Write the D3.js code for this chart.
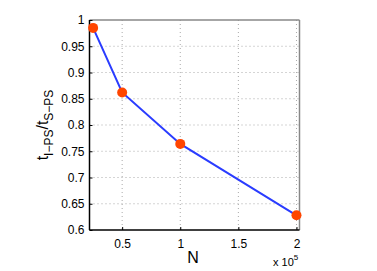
<!DOCTYPE html>
<html><head><meta charset="utf-8">
<script src="https://cdn.jsdelivr.net/npm/d3@7"></script>
<style>body{margin:0;background:#fff}svg{display:block}text{font-family:"Liberation Sans",Arial,sans-serif}</style>
</head><body>
<script>
const nValues = [0.25, 0.5, 1, 2];          // x 10^5
const ratioValues = [0.985, 0.862, 0.764, 0.628];
const xTicks = [0.5, 1, 1.5, 2];
const yTicks = [0.6, 0.65, 0.7, 0.75, 0.8, 0.85, 0.9, 0.95, 1];

const W = 377, H = 271;
const L = 89.5, R = 299.5, T = 20, B = 230;
const svg = d3.select("body").append("svg").attr("width", W).attr("height", H);
const x = d3.scaleLinear().domain([0.219, 2.026]).range([L, R]);
const y = d3.scaleLinear().domain([0.6, 1]).range([B, T]);

// grid
const g = svg.append("g");
g.selectAll(".gx").data(xTicks).enter().append("line")
  .attr("x1", d => x(d)).attr("x2", d => x(d)).attr("y1", T).attr("y2", B)
  .attr("stroke", "#aaa").attr("stroke-width", 1).attr("stroke-dasharray", "1,3");
g.selectAll(".gy").data(yTicks.filter(d => d > 0.6 && d < 1)).enter().append("line")
  .attr("y1", d => y(d)).attr("y2", d => y(d)).attr("x1", L).attr("x2", R)
  .attr("stroke", "#aaa").attr("stroke-width", 1).attr("stroke-dasharray", "1,3");

// box top/right
svg.append("line").attr("x1", L).attr("x2", R).attr("y1", T).attr("y2", T).attr("stroke", "#888").attr("stroke-width", 1.5);
svg.append("line").attr("x1", R).attr("x2", R).attr("y1", T).attr("y2", B).attr("stroke", "#888").attr("stroke-width", 1.5);

// axes
const xAxis = d3.axisBottom(x).tickValues(xTicks).tickSize(-3).tickPadding(9).tickFormat(d3.format("~g"));
const yAxis = d3.axisLeft(y).tickValues(yTicks).tickSize(-3).tickPadding(5).tickFormat(d3.format("~g"));
const gx = svg.append("g").attr("transform", `translate(0,${B})`).call(xAxis);
const gy = svg.append("g").attr("transform", `translate(${L},0)`).call(yAxis);
[gx, gy].forEach(a => {
  a.select(".domain").attr("stroke", "#000").attr("stroke-width", 1.5);
  a.selectAll(".tick line").attr("stroke", "#000");
  a.selectAll(".tick text").attr("font-size", 12).attr("fill", "#000").attr("font-family", "Liberation Sans, Arial, sans-serif");
});
gx.select(".domain").attr("d", `M${L},0H${R}`);
gy.select(".domain").attr("d", `M0,${B}V${T}`);

// line + markers
svg.append("path").datum(nValues.map((d, i) => [d, ratioValues[i]]))
  .attr("d", d3.line().x(d => x(d[0])).y(d => y(d[1])))
  .attr("fill", "none").attr("stroke", "#2a3cff").attr("stroke-width", 2);
svg.selectAll(".pt").data(nValues).enter().append("circle")
  .attr("cx", d => x(d)).attr("cy", (d, i) => y(ratioValues[i])).attr("r", 5)
  .attr("fill", "#ff4500");

// labels
svg.append("text").attr("x", 193).attr("y", 263).attr("text-anchor", "middle")
  .attr("font-size", 16).text("N");
const ex = svg.append("text").attr("x", 273).attr("y", 266).attr("font-size", 11);
ex.append("tspan").text("x 10");
ex.append("tspan").attr("dy", -6).attr("font-size", 8).text("5");

const yl = svg.append("text").attr("transform", "translate(48,125) rotate(-90)").attr("text-anchor", "middle").attr("font-size", 16);
yl.append("tspan").text("t");
yl.append("tspan").attr("dy", 5).attr("font-size", 12).text("I−PS");
yl.append("tspan").attr("dy", -5).text("/t");
yl.append("tspan").attr("dy", 5).attr("font-size", 12).text("S−PS");
</script>
</body></html>
